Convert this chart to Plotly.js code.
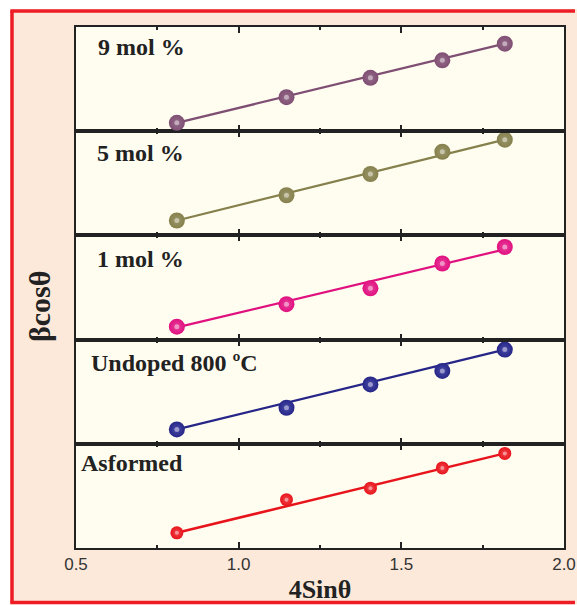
<!DOCTYPE html>
<html>
<head>
<meta charset="utf-8">
<script src="https://cdn.plot.ly/plotly-3.0.1.min.js"></script>
<style>html,body{margin:0;padding:0;background:#fff;overflow:hidden;}#chart{width:577px;height:605px;overflow:hidden;}</style>
</head>
<body>
<div id="chart"></div>
<script>
// Data (βcosθ in relative units within each panel)
const fourSinTheta = [0.81, 1.147, 1.405, 1.626, 1.818];
const fitX = [0.81, 1.818];

const labels = ["Asformed", "Undoped 800 ºC", "1 mol %", "5 mol %", "9 mol %"];
const asformed = [0.146, 0.464, 0.574, 0.768, 0.908];
const undoped = [0.138, 0.346, 0.570, 0.699, 0.904];
const mol1 = [0.124, 0.340, 0.492, 0.730, 0.889];
const mol5 = [0.143, 0.385, 0.589, 0.803, 0.919];
const mol9 = [0.080, 0.327, 0.512, 0.680, 0.840];

const fitAsformed = [0.146, 0.908];
const fitUndoped = [0.138, 0.904];
const fitMol1 = [0.117, 0.866];
const fitMol5 = [0.143, 0.919];
const fitMol9 = [0.080, 0.840];

const xTickVals = [0.5, 1.0, 1.5, 2.0];
const xTickText = ["0.5", "1.0", "1.5", "2.0"];

const series = [asformed, undoped, mol1, mol5, mol9];
const fits = [fitAsformed, fitUndoped, fitMol1, fitMol5, fitMol9];
const colors = ["#e8141c", "#262688", "#e0107f", "#85804c", "#7f4f73"];
const midColors = ["#f0444a", "#4a4aa8", "#e8409c", "#9c976a", "#946a88"];
const msize = [13, 16, 16, 16, 16];
const hsize = [4, 5, 5, 5, 5];
const labelX = [79, 89, 95, 95, 96];
const labelY = [0.82, 0.78, 0.77, 0.786, 0.81];

const L = 76, R = 13, T = 27, B = 57, W = 577, H = 605;
const pw = W - L - R, ph = H - T - B;
const px = v => (v - L) / pw;
const py = v => (H - B - v) / ph;

const traces = [];
const layout = {
  width: W, height: H,
  margin: {l: L, r: R, t: T, b: B, pad: 0},
  paper_bgcolor: "#fce9da",
  plot_bgcolor: "#fffdf0",
  showlegend: false,
  hovermode: false,
  annotations: [],
  shapes: []
};

for (let i = 0; i < 5; i++) {
  const xa = i === 0 ? "x" : "x" + (i + 1);
  const ya = i === 0 ? "y" : "y" + (i + 1);
  traces.push({
    x: fitX, y: fits[i], xaxis: xa, yaxis: ya, mode: "lines",
    line: {color: colors[i], width: i === 0 ? 2.5 : 2.2}
  });
  traces.push({
    x: fourSinTheta, y: series[i], xaxis: xa, yaxis: ya, mode: "markers",
    marker: {color: colors[i], size: msize[i], line: {width: 0},
      gradient: {type: "radial", color: midColors[i]}}
  });
  traces.push({
    x: fourSinTheta, y: series[i], xaxis: xa, yaxis: ya, mode: "markers",
    marker: {color: "rgba(255,255,255,0.45)", size: hsize[i], line: {width: 0}}
  });
  const xkey = i === 0 ? "xaxis" : "xaxis" + (i + 1);
  const ykey = i === 0 ? "yaxis" : "yaxis" + (i + 1);
  layout[xkey] = {
    anchor: ya, range: [0.5, 2.0], matches: i === 0 ? undefined : "x",
    tickmode: "array", tickvals: xTickVals, ticktext: xTickText,
    ticks: "inside", ticklen: 6, tickwidth: 2, tickcolor: "#222",
    minor: {tickmode: "array", tickvals: [0.75, 1.25, 1.75], ticks: "inside", ticklen: 3, tickwidth: 2, tickcolor: "#222"},
    showticklabels: i === 0,
    tickfont: {family: "Liberation Sans, Arial, sans-serif", size: 17, color: "#333"},
    showline: true, linecolor: "#222", linewidth: 2, mirror: "ticks",
    showgrid: false, zeroline: false, fixedrange: true
  };
  if (i === 0) {
    layout[xkey].title = {text: "<b>4Sinθ</b>", font: {family: "Liberation Serif, Times New Roman, serif", size: 26, color: "#222"}, standoff: 6};
  }
  layout[ykey] = {
    anchor: xa, domain: [i * 0.2, (i + 1) * 0.2], range: [0, 1],
    showticklabels: false, ticks: "", showgrid: false, zeroline: false,
    showline: true, linecolor: "#222", linewidth: 2, mirror: true, fixedrange: true
  };
  layout.annotations.push({
    text: "<b>" + labels[i] + "</b>", xref: "paper", yref: ya + " domain",
    x: px(labelX[i]), y: labelY[i], xanchor: "left", yanchor: "middle", showarrow: false,
    font: {family: "Liberation Serif, Times New Roman, serif", size: 24, color: "#222"}
  });
}

// y-axis title as annotation (shared)
layout.annotations.push({
  text: "<b>βcosθ</b>", xref: "paper", yref: "paper", x: px(39), y: py(307),
  xanchor: "center", yanchor: "middle", textangle: -90, showarrow: false,
  font: {family: "Liberation Serif, Times New Roman, serif", size: 30, color: "#222"}
});

// white outside of frame and the red frame (left, top, bottom edges)
const red = {color: "#ee1c24", width: 3.5};
layout.shapes.push(
  {type: "rect", xref: "paper", yref: "paper", layer: "above", x0: px(0), x1: px(10.3), y0: py(H + 2), y1: py(-2), fillcolor: "#ffffff", line: {width: 0}},
  {type: "rect", xref: "paper", yref: "paper", layer: "above", x0: px(0), x1: px(W), y0: py(9.3), y1: py(-2), fillcolor: "#ffffff", line: {width: 0}},
  {type: "rect", xref: "paper", yref: "paper", layer: "above", x0: px(0), x1: px(W), y0: py(H + 2), y1: py(604.3), fillcolor: "#ffffff", line: {width: 0}},
  {type: "line", xref: "paper", yref: "paper", layer: "above", x0: px(12), x1: px(12), y0: py(602.5), y1: py(11), line: red},
  {type: "line", xref: "paper", yref: "paper", layer: "above", x0: px(10.3), x1: px(W - 2), y0: py(11), y1: py(11), line: red},
  {type: "line", xref: "paper", yref: "paper", layer: "above", x0: px(10.3), x1: px(W - 2), y0: py(602.5), y1: py(602.5), line: red}
);

Plotly.newPlot("chart", traces, layout, {staticPlot: true, displayModeBar: false});
</script>
</body>
</html>
